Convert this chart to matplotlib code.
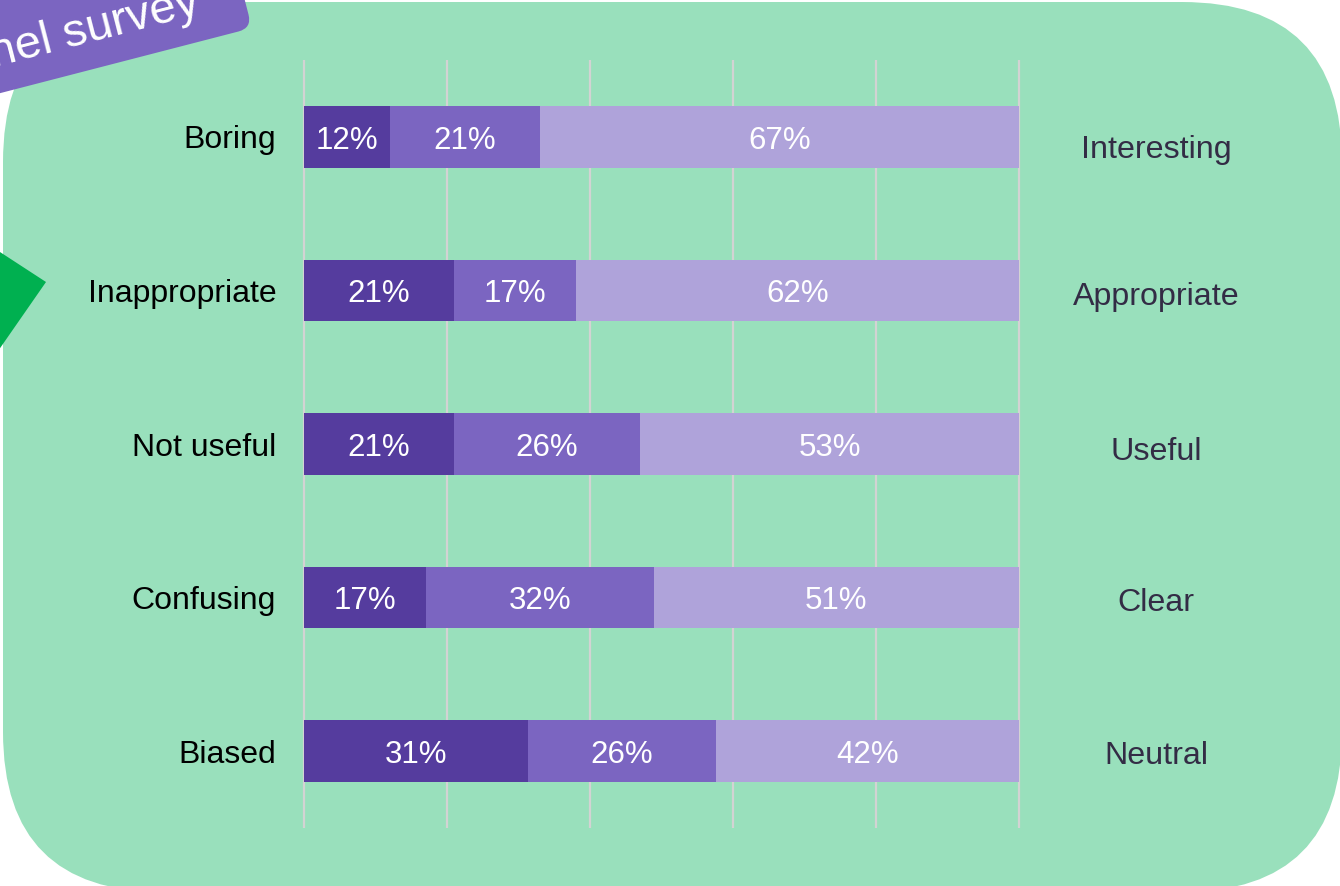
import matplotlib
matplotlib.use("Agg")
import matplotlib.pyplot as plt
from matplotlib.patches import FancyBboxPatch, Polygon
from matplotlib.transforms import Affine2D

plt.rcParams['font.family'] = ['Liberation Sans', 'DejaVu Sans']

# survey data (percent of respondents)
left_labels = ['Boring', 'Inappropriate', 'Not useful', 'Confusing', 'Biased']
right_labels = ['Interesting', 'Appropriate', 'Useful', 'Clear', 'Neutral']
negative = [12.0, 21.0, 21.0, 17.1, 31.3]
middle = [21.0, 17.0, 26.0, 31.8, 26.3]
positive = [67.0, 62.0, 53.0, 51.1, 42.4]
grid_ticks = [0, 20, 40, 60, 80, 100]

colors = ['#553C9E', '#7B65C1', '#AFA3DA']
bg_green = '#99E0BC'
# small vertical nudges of the right-hand labels (in bar units)
right_nudge = [0.085, 0.045, 0.055, 0.035, 0.03]

fig = plt.figure(figsize=(13.4, 8.86), dpi=100)

# background layer in pixel coordinates
bg = fig.add_axes([0, 0, 1, 1])
bg.set_xlim(0, 1340)
bg.set_ylim(886, 0)
bg.axis('off')

panel = FancyBboxPatch((3, 2), 1339, 890, boxstyle="round,pad=0,rounding_size=160",
                       facecolor=bg_green, edgecolor='none')
bg.add_patch(panel)

# green arrow tip poking in from the left
arrow = Polygon([(-20, 239), (46, 282), (-20, 377)], closed=True,
                facecolor='#00B050', edgecolor='none')
bg.add_patch(arrow)

# rotated purple tag in the top-left corner
rot = Affine2D().rotate_deg_around(252, 28, -14.5) + bg.transData
tag = FancyBboxPatch((-168, -82), 420, 110, boxstyle="round,pad=0,rounding_size=14",
                     facecolor='#7B65C1', edgecolor='none', transform=rot)
bg.add_patch(tag)
bg.text(-7, 67, 'nel survey', color='white', fontsize=34, rotation=14.5,
        rotation_mode='anchor', ha='left', va='baseline')

# chart
ax = fig.add_axes([304 / 1340, 1 - 828 / 886, 715 / 1340, 768 / 886])
ax.set_facecolor('none')
ax.set_xlim(0, 100)
ax.set_ylim(4.5, -0.5)
for s in ax.spines.values():
    s.set_visible(False)

ax.vlines(grid_ticks, -0.5, 4.5, color='#D3D3D3', linewidth=1.6, zorder=0, clip_on=False)

ypos = list(range(len(left_labels)))
starts = [0] * len(ypos)
for vals, col in zip([negative, middle, positive], colors):
    ax.barh(ypos, vals, left=starts, height=0.4, color=col, zorder=2)
    for y, l, v in zip(ypos, starts, vals):
        ax.text(l + v / 2, y + 0.025, f'{round(v)}%', color='white', fontsize=22.5,
                ha='center', va='center', zorder=3)
    starts = [a + b for a, b in zip(starts, vals)]

ax.set_xticks([])
ax.set_yticks(ypos)
ax.set_yticklabels(left_labels, fontsize=23, color='black')
ax.tick_params(axis='y', length=0, pad=20)

for y, lab, dy in zip(ypos, right_labels, right_nudge):
    ax.text(119.2, y + dy, lab, fontsize=23.2, color='#332C45',
            ha='center', va='center', clip_on=False)

fig.savefig('out.png', dpi=100)
